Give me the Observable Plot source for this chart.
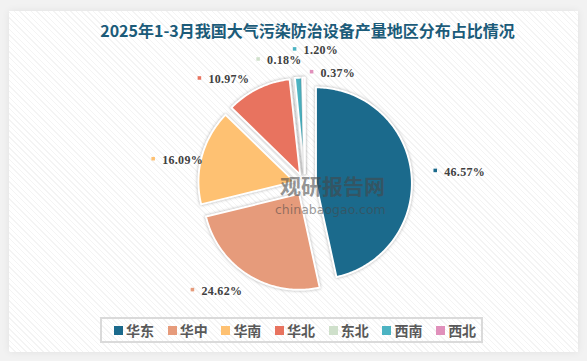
<!DOCTYPE html>
<html><head><meta charset="utf-8">
<script src="https://cdn.jsdelivr.net/npm/d3@7"></script>
<script src="https://cdn.jsdelivr.net/npm/@observablehq/plot@0.6"></script>
<style>
html,body{margin:0;padding:0;}
body{width:587px;height:361px;background:#f2f2f2;position:relative;overflow:hidden;font-family:"Noto Sans CJK SC","Noto Sans",sans-serif;}
#panel{position:absolute;left:9px;top:11px;width:569px;height:341px;background-color:#fff;
 background-image:repeating-linear-gradient(45deg, rgba(0,0,0,0.045) 0 1px, transparent 1px 4px);
 box-shadow:0 0 8px rgba(0,0,0,0.07);}
#title{position:absolute;left:0;top:22px;width:615px;text-align:center;font-size:16px;line-height:16px;font-weight:bold;color:#1b5b79;white-space:nowrap;}
#chart{position:absolute;left:0;top:0;}
#legend{position:absolute;left:100px;top:317px;width:383px;height:26px;box-sizing:border-box;border:2px solid #dadada;display:flex;align-items:center;padding-left:12px;}
.item{display:flex;align-items:center;width:53.7px;flex:none;font-size:14px;font-weight:bold;color:#595959;line-height:16px;}
.sw{width:9px;height:9px;margin-right:3px;flex:none;}
#wm{position:absolute;left:280px;top:175px;color:rgba(70,70,70,0.58);font-weight:bold;font-size:21px;line-height:20px;white-space:nowrap;}
#wm2{position:absolute;left:275px;top:203px;color:rgba(70,70,70,0.55);font-family:"DejaVu Sans",sans-serif;font-size:12.5px;line-height:13px;white-space:nowrap;}
</style></head>
<body>
<div id="panel"></div>
<div id="title">2025年1-3月我国大气污染防治设备产量地区分布占比情况</div>
<div id="chart"></div>
<div id="wm">观研报告网</div>
<div id="wm2">chinabaogao.com</div>
<div id="legend"></div>
<script>
// ---- data ----
const regions = ["华东","华中","华南","华北","东北","西南","西北"];
const shares = [46.57, 24.62, 16.09, 10.97, 0.18, 1.20, 0.37];
const colors = ["#1b6a8c","#e69b7b","#fec172","#e8735f","#cfe0cb","#4cb3c2","#e090bb"];

// ---- layout ----
const W = 587, H = 361, CX = 304.5, CY = 184, R = 96, EXPLODE = 11;
const labelShift = [0, 15, -5.6, -18.7, -14.5, -0.9, 4];   // degrees relative to slice middle
const labelDist = [131, 154, 154, 150, 134, 136, 113];     // px from centre

const arcs = d3.pie().sort(null).value(d => d)(shares);
const polys = [];
const labels = [];
arcs.forEach((a, i) => {
  const mid = (a.startAngle + a.endAngle) / 2;
  const ox = CX + EXPLODE * Math.sin(mid), oy = CY - EXPLODE * Math.cos(mid);
  polys.push({region: regions[i], x: ox, y: oy});
  const n = Math.max(2, Math.ceil((a.endAngle - a.startAngle) / (Math.PI / 180)));
  for (let k = 0; k <= n; k++) {
    const t = a.startAngle + (a.endAngle - a.startAngle) * k / n;
    polys.push({region: regions[i], x: ox + R * Math.sin(t), y: oy - R * Math.cos(t)});
  }
  const la = mid + labelShift[i] * Math.PI / 180;
  labels.push({region: regions[i], x: CX + labelDist[i] * Math.sin(la), y: CY - labelDist[i] * Math.cos(la),
               text: shares[i].toFixed(2) + "%"});
});

const svg = Plot.plot({
  width: W, height: H, margin: 0,
  x: {domain: [0, W], range: [0, W], axis: null},
  y: {domain: [0, H], range: [0, H], axis: null},
  color: {domain: regions, range: colors},
  style: {background: "transparent", overflow: "visible"},
  marks: [
    Plot.line(polys, {x: "x", y: "y", z: "region", fill: "region", stroke: "white", strokeWidth: 2,
                      curve: "linear-closed", strokeLinejoin: "round"}),
    Plot.dot(labels, {x: "x", y: "y", fill: "region", symbol: "square", r: 2, stroke: null}),
    Plot.text(labels, {x: "x", y: "y", text: "text", dx: 9, dy: 1.5, textAnchor: "start", fill: "#404040",
                       fontSize: 12, fontWeight: "bold", fontFamily: "Liberation Serif, DejaVu Serif, serif"})
  ]
});
svg.querySelectorAll('g[aria-label="line"] path').forEach(p => p.style.filter = "drop-shadow(0 0 1.5px rgba(0,0,0,0.3))");
svg.querySelectorAll('g[aria-label="text"] text').forEach(t => t.style.letterSpacing = "0.3px");
document.getElementById("chart").appendChild(svg);

const lg = document.getElementById("legend");
regions.forEach((r, i) => {
  const it = document.createElement("div"); it.className = "item";
  const sw = document.createElement("span"); sw.className = "sw"; sw.style.background = colors[i];
  const tx = document.createElement("span"); tx.textContent = r;
  it.appendChild(sw); it.appendChild(tx); lg.appendChild(it);
});
</script>
</body></html>
